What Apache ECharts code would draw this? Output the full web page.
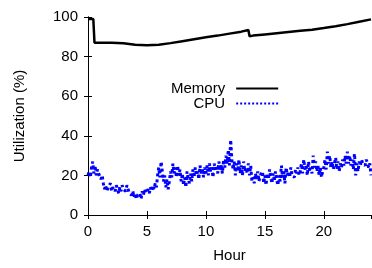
<!DOCTYPE html>
<html>
<head>
<meta charset="utf-8">
<script src="https://cdn.jsdelivr.net/npm/echarts@6/dist/echarts.min.js"></script>
<style>
html, body { margin: 0; padding: 0; background: #fff; }
#chart { width: 372px; height: 268px; }
</style>
</head>
<body>
<div id="chart"></div>
<script>
// memory usage, sampled at the bends of the curve
var memHours = [0, 0.45, 0.55, 1, 2, 3, 4, 5, 6, 7, 8, 9, 10, 11, 12, 13, 13.6, 13.7, 14, 15, 16, 17, 18, 19, 20, 21, 22, 23, 24];
var memValues = [99, 99, 87, 87, 87, 86.7, 86, 85.7, 86, 86.8, 87.8, 88.8, 89.8, 90.6, 91.6, 92.6, 93.4, 90.3, 90.6, 91.2, 91.8, 92.4, 93, 93.6, 94.4, 95.3, 96.4, 97.6, 98.8];

// cpu usage, one value every 0.1 hour
var cpuStep = 0.1;
var cpuValues = [
  20,22,19,24,27,21,25,20,23,21,
  22,18,20,16,13,15,12,14,13,16,
  12,14,13,12,15,13,11,14,12,15,
  13,14,12,15,13,11,12,10,12,9,
  11,8,10,9,11,8,12,10,13,11,
  10,13,11,14,12,15,13,16,14,20,
  24,19,27,22,17,20,14,18,13,17,
  22,19,26,21,24,19,25,20,23,17,
  21,15,19,14,22,18,16,21,17,23,
  19,24,20,22,18,25,21,23,19,24,
  21,25,20,26,22,24,19,26,23,25,
  21,27,23,25,21,28,24,30,26,33,
  25,38,28,23,27,20,26,22,28,21,
  25,20,27,22,24,21,26,20,25,17,
  19,16,21,18,22,17,20,19,22,16,
  20,15,21,18,23,19,16,21,17,22,
  18,15,20,17,25,19,22,16,24,20,
  22,19,24,20,21,19,23,21,24,20,
  22,26,21,28,23,25,20,27,22,24,
  21,30,24,27,22,25,20,24,19,22,
  24,28,23,32,26,30,24,27,23,26,
  29,23,27,22,26,24,28,25,30,26,
  32,26,30,25,28,23,31,20,26,22,
  27,25,28,26,27,25,28,27,24,26,
  20
];

var memData = memHours.map(function (h, i) { return [h, memValues[i]]; });
var cpuData = cpuValues.map(function (v, i) { return [+(i * cpuStep).toFixed(1), v]; });

var font = 'Liberation Sans, Arial, sans-serif';
var frame = { show: true, lineStyle: { color: '#000', width: 1 } };
var tick = { show: true, inside: true, length: 4, lineStyle: { color: '#000' } };

var chart = echarts.init(document.getElementById('chart'));
chart.setOption({
  animation: false,
  textStyle: { fontFamily: font },
  grid: { left: 88, right: 1, top: 17, bottom: 48 },
  legend: {
    orient: 'vertical',
    left: 166,
    top: 76,
    align: 'right',
    itemWidth: 42,
    itemHeight: 12,
    itemGap: 0,
    itemStyle: { opacity: 0 },
    textStyle: { fontSize: 15, color: '#000', fontFamily: font, padding: [0, 6, 0, 0] },
    data: ['Memory', 'CPU']
  },
  xAxis: [{
    type: 'value', min: 0, max: 24, interval: 5,
    name: 'Hour', nameLocation: 'middle', nameGap: 33,
    nameTextStyle: { fontSize: 15, color: '#000' },
    axisLine: frame, axisTick: tick, splitLine: { show: false },
    axisLabel: { fontSize: 15, color: '#000', margin: 9, showMaxLabel: false }
  }, {
    type: 'value', min: 0, max: 24, interval: 5, position: 'top',
    axisLine: frame, axisTick: tick, splitLine: { show: false },
    axisLabel: { show: false }
  }],
  yAxis: [{
    type: 'value', min: 0, max: 100, interval: 20,
    name: 'Utilization (%)', nameLocation: 'middle', nameGap: 61,
    nameTextStyle: { fontSize: 15, color: '#000' },
    axisLine: frame, axisTick: tick, splitLine: { show: false },
    axisLabel: { fontSize: 15, color: '#000', margin: 10 }
  }, {
    type: 'value', min: 0, max: 100, interval: 20, position: 'right',
    axisLine: frame, axisTick: tick, splitLine: { show: false },
    axisLabel: { show: false }
  }],
  series: [{
    name: 'Memory', type: 'line', data: memData,
    symbol: 'none', color: '#000',
    lineStyle: { color: '#000', width: 2.5 }
  }, {
    name: 'CPU', type: 'line', data: cpuData,
    symbol: 'none', color: '#0000ff',
    lineStyle: { color: '#0000ff', width: 3, type: 'dotted' }
  }]
});
</script>
</body>
</html>
